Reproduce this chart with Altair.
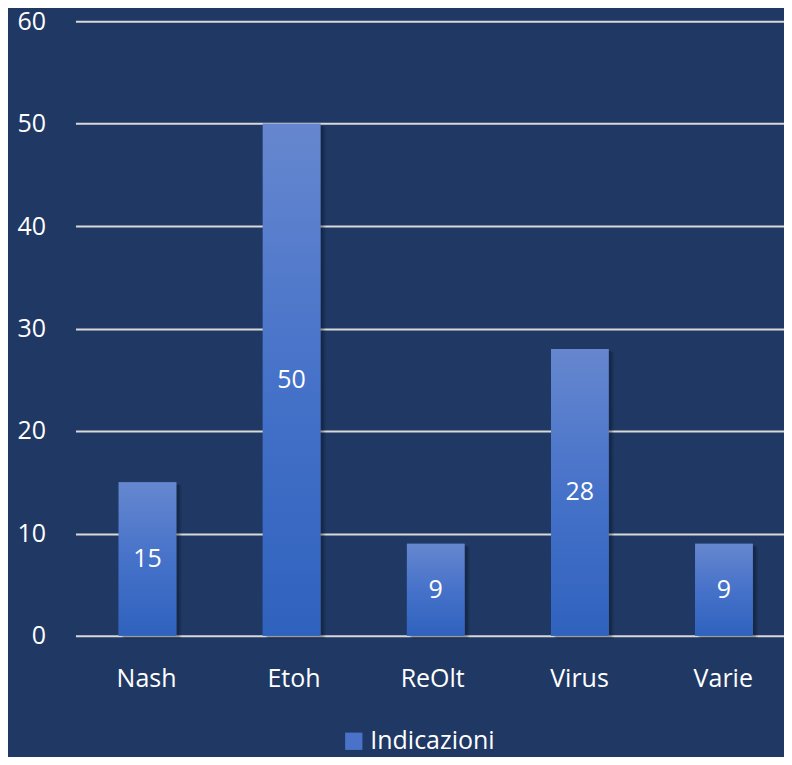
import altair as alt
import pandas as pd

categories = ["Nash", "Etoh", "ReOlt", "Virus", "Varie"]
values = [15, 50, 9, 28, 9]
series_name = "Indicazioni"
y_ticks = [0, 10, 20, 30, 40, 50, 60]

df = pd.DataFrame({"cat": categories, "val": values, "series": [series_name] * len(categories)})
df["mid"] = df["val"] / 2

FONT = "Open Sans"
BG = "#1F3864"

x_enc = alt.X("cat:N", sort=categories, title=None,
              scale=alt.Scale(range=[0, 721], paddingInner=0.6, paddingOuter=0.3),
              axis=alt.Axis(labelAngle=0, labelFontSize=25, labelColor="white", labelFont=FONT,
                            labelPadding=43, labelOffset=29, ticks=False, domain=False, grid=False))
y_enc = alt.Y("val:Q", title=None,
              scale=alt.Scale(domain=[0, 60], nice=False),
              axis=alt.Axis(values=y_ticks, labelFontSize=25, labelColor="white", labelFont=FONT,
                            labelPadding=30, ticks=False, domain=False, grid=True,
                            gridColor="#D9D9D9", gridWidth=2))

base = alt.Chart(df)

shadow1 = base.mark_bar(color="black", opacity=0.18, xOffset=3, yOffset=2).encode(
    x=alt.X("cat:N", sort=categories), y="val:Q")
shadow2 = base.mark_bar(color="black", opacity=0.12, xOffset=5, yOffset=3).encode(
    x=alt.X("cat:N", sort=categories), y="val:Q")

bars_legend = base.mark_bar().encode(
    x=x_enc, y=y_enc,
    color=alt.Color("series:N", scale=alt.Scale(range=["#4A72C8"]),
                    legend=alt.Legend(title=None, orient="none", legendX=266, legendY=708,
                                      symbolType="square", symbolSize=300, symbolStrokeWidth=0,
                                      labelFontSize=25, labelColor="white", labelFont=FONT,
                                      labelOffset=4)))

grad = alt.Gradient(gradient="linear",
                    stops=[alt.GradientStop(color="#6687CF", offset=0),
                           alt.GradientStop(color="#4672C9", offset=0.5),
                           alt.GradientStop(color="#2F62BE", offset=1)],
                    x1=0, x2=0, y1=0, y2=1)
bars_grad = base.mark_bar(color=grad).encode(
    x=alt.X("cat:N", sort=categories), y="val:Q")

labels = base.mark_text(color="white", fontSize=25, font=FONT, baseline="middle").encode(
    x=alt.X("cat:N", sort=categories), y="mid:Q", text="val:Q")

chart = alt.layer(shadow2, shadow1, bars_legend, bars_grad, labels).properties(
    width=709, height=615, background=BG,
    autosize=alt.AutoSizeParams(type="none"),
    padding={"left": 67.5, "top": 13, "right": 0, "bottom": 121}
).configure_view(stroke=None)

chart.save("out.html", embed_options={"renderer": "svg", "actions": False})
